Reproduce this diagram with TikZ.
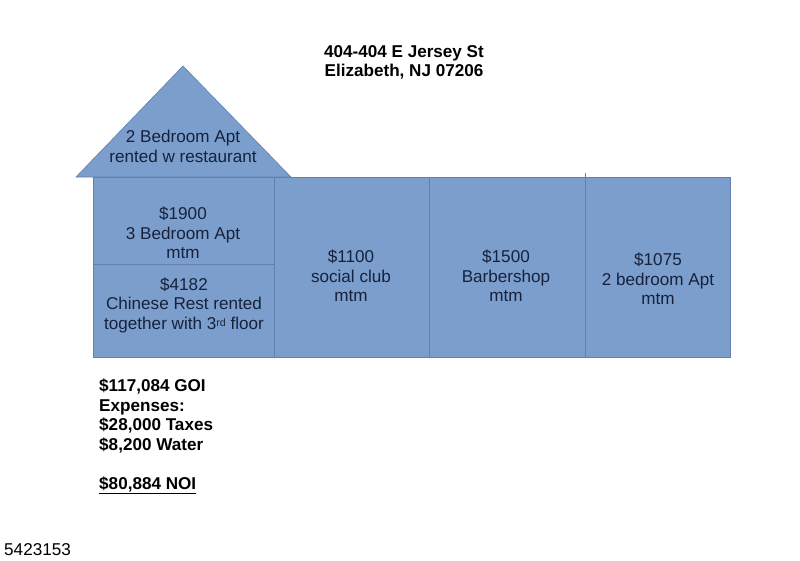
\documentclass[tikz,border=0pt]{standalone}
\usepackage{fontspec}
\setmainfont{Liberation Sans}
\usepackage{tikz}
\usetikzlibrary{positioning,calc}

\definecolor{roomblue}{RGB}{123,158,204}
\definecolor{roomline}{RGB}{98,128,172}
\definecolor{roomtext}{RGB}{22,34,60}

\tikzset{
  room/.style={fill=roomblue,draw=roomline,line width=0.5pt},
  roomlabel/.style={align=center,inner sep=0pt,text=roomtext,font=\fontsize{14.6}{16.6}\selectfont},
  headlabel/.style={align=center,inner sep=0pt,font=\fontsize{14.6}{16.6}\selectfont\bfseries}
}

\begin{document}
\begin{tikzpicture}[x=0.03cm,y=-0.03cm]
\useasboundingbox (0,0) rectangle (800,561);

% roof
\draw[room] (76,177) coordinate(RL) -- (183,66) coordinate(RT) -- (291,177) coordinate(RR) -- cycle;
% building
\draw[room] (93,177) rectangle (274,264);
\draw[room] (93,264) rectangle (274,357);
\draw[room] (274,177) rectangle (429,357);
\draw[room] (429,177) rectangle (585,357);
\draw[room] (585,177) rectangle (730,357);
\draw[roomline,line width=0.5pt] (585,173) -- (585,357);

\node[headlabel] (title) at (404,62.5) {404-404 E Jersey St\\Elizabeth, NJ 07206};

\node[roomlabel] (roof) at (183,146.5) {2 Bedroom Apt\\rented w restaurant};
\node[roomlabel] (third) at (183,233) {\$1900\\3 Bedroom Apt\\mtm};
\node[roomlabel] (rest) at (184,305) {\$4182\\Chinese Rest rented\\together with 3{\fontsize{9}{9}\selectfont\raisebox{0.5ex}{rd}} floor};
\node[roomlabel] (club) at (351,276) {\$1100\\social club\\mtm};
\node[roomlabel] (barber) at (506,276) {\$1500\\Barbershop\\mtm};
\node[roomlabel] (apt) at (658,279) {\$1075\\2 bedroom Apt\\mtm};

\node[headlabel,align=left,anchor=north west] (money) at (99,379)
  {\$117,084 GOI\\Expenses:\\\$28,000 Taxes\\\$8,200 Water\\[16.6pt]\underline{\$80,884 NOI}};

\node[inner sep=0pt,anchor=west,font=\fontsize{14.6}{16.6}\selectfont] (mls) at (4,550) {5423153};
\end{tikzpicture}
\end{document}
